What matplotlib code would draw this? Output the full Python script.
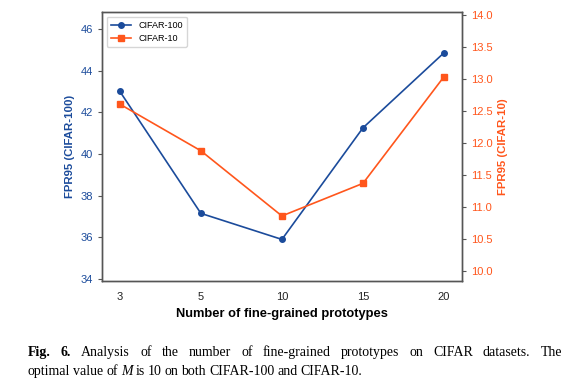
import matplotlib
matplotlib.use("Agg")
import matplotlib.pyplot as plt

plt.rcParams["font.family"] = ["Liberation Sans", "DejaVu Sans"]

prototypes = ["3", "5", "10", "15", "20"]
fpr_c100 = [43.0, 37.15, 35.9, 41.25, 44.85]
fpr_c10 = [12.61, 11.88, 10.86, 11.37, 13.04]

BLUE = "#1b4b9b"
ORANGE = "#ff561c"
SPINE = "#555555"

fig = plt.figure(figsize=(5.73, 3.91), dpi=100)
ax = fig.add_axes([0.178, 0.281, 0.628, 0.688])
ax2 = ax.twinx()

x = list(range(len(prototypes)))
l1, = ax.plot(x, fpr_c100, color=BLUE, marker="o", ms=4, lw=1.2, label="CIFAR-100")
l2, = ax2.plot(x, fpr_c10, color=ORANGE, marker="s", ms=4, lw=1.2, label="CIFAR-10")

ax.set_xlim(-0.22, 4.22)
ax.set_xticks(x)
ax.set_xticklabels(prototypes)
ax.set_ylim(33.9, 46.8)
ax.set_yticks([34, 36, 38, 40, 42, 44, 46])
ax2.set_ylim(9.84, 14.05)
ax2.set_yticks([10.0, 10.5, 11.0, 11.5, 12.0, 12.5, 13.0, 13.5, 14.0])
ax2.set_yticklabels([f"{v:.1f}" for v in ax2.get_yticks()])

ax.tick_params(axis="y", colors=SPINE, labelcolor=BLUE, labelsize=8, length=3)
ax.tick_params(axis="x", colors=SPINE, labelcolor="#222222", labelsize=8, length=0, pad=8)
ax2.tick_params(axis="y", colors=SPINE, labelcolor=ORANGE, labelsize=8, length=3)
for a in (ax, ax2):
    for s in a.spines.values():
        s.set_color(SPINE)
        s.set_linewidth(1.0)

ax.set_xlabel("Number of fine-grained prototypes", fontsize=9.3, fontweight="bold", labelpad=4)
ax.set_ylabel("FPR95 (CIFAR-100)", fontsize=8.2, fontweight="bold", color=BLUE, labelpad=4)
ax2.set_ylabel("FPR95 (CIFAR-10)", fontsize=8.2, fontweight="bold", color=ORANGE, labelpad=4)

ax.legend([l1, l2], ["CIFAR-100", "CIFAR-10"], loc="upper left", fontsize=6.5,
          handlelength=2.2, borderpad=0.5, labelspacing=0.4)

# caption, first line justified
serif = ["Liberation Serif", "DejaVu Serif"]
renderer = fig.canvas.get_renderer()
words1 = [("Fig.", "bold"), ("6.", "bold"), ("Analysis", "normal"), ("of", "normal"),
          ("the", "normal"), ("number", "normal"), ("of", "normal"), ("fine-grained", "normal"),
          ("prototypes", "normal"), ("on", "normal"), ("CIFAR", "normal"),
          ("datasets.", "normal"), ("The", "normal")]
x0, x1, y1 = 28 / 573, 562 / 573, 1 - 356 / 391
texts = [fig.text(0, y1, w, fontsize=10, fontweight=wt, family=serif, va="baseline")
         for w, wt in words1]
widths = [t.get_window_extent(renderer).width / 573 for t in texts]
gap = ((x1 - x0) - sum(widths)) / (len(texts) - 1)
pos = x0
for t, w in zip(texts, widths):
    t.set_x(pos)
    pos += w + gap

y2 = 1 - 375 / 391
words2 = [("optimal", "normal"), ("value", "normal"), ("of", "normal"), ("M", "italic"),
          ("is", "normal"), ("10", "normal"), ("on", "normal"), ("both", "normal"),
          ("CIFAR-100", "normal"), ("and", "normal"), ("CIFAR-10.", "normal")]
pos = x0
for w, st in words2:
    t = fig.text(pos, y2, w, fontsize=10, style=st, family=serif, va="baseline")
    pos += t.get_window_extent(renderer).width / 573 + 3.0 / 573

fig.savefig("out.png", dpi=100)
